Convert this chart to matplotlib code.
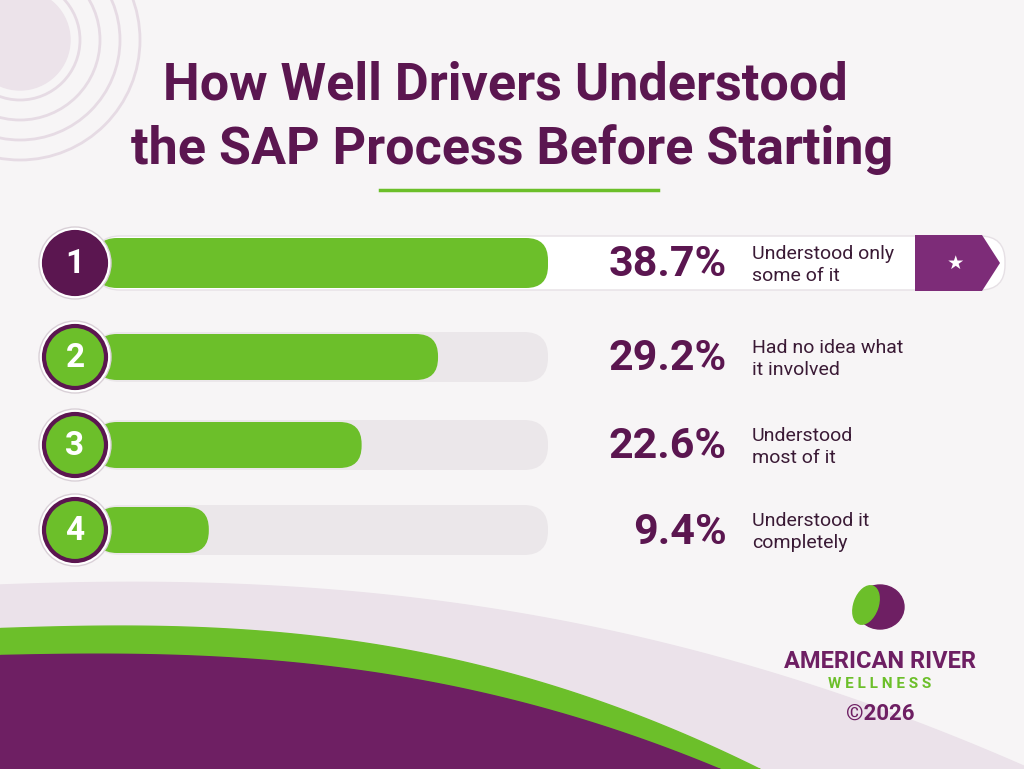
import matplotlib
matplotlib.use("Agg")
import matplotlib.pyplot as plt
import numpy as np
from matplotlib.patches import FancyBboxPatch, Circle, Polygon, Ellipse

ranks = ["1", "2", "3", "4"]
values = [38.7, 29.2, 22.6, 9.4]
pct_labels = ["38.7%", "29.2%", "22.6%", "9.4%"]
answers = ["Understood only\nsome of it", "Had no idea what\nit involved",
           "Understood\nmost of it", "Understood it\ncompletely"]

PURPLE = "#5b1650"
GREEN = "#6cbf2a"
TRACK = "#ebe7ea"

fig = plt.figure(figsize=(10.24, 7.69), dpi=100)
fig.patch.set_facecolor("#f7f5f6")
ax = fig.add_axes([0, 0, 1, 1])
ax.set_xlim(0, 1024); ax.set_ylim(769, 0); ax.axis("off")

# decorative arcs top-left
for r in [60, 80, 100, 120]:
    ax.add_patch(Circle((20, 40), r, fill=False, ec="#e6dbe4", lw=2))
ax.add_patch(Circle((20, 40), 50, color="#ece3ea"))

# bottom waves
x = np.linspace(0, 1024, 300)
light = 585 - 15*np.sin(x/1024*np.pi*0.8) + 190*(x/1024)**2.2
ax.fill_between(x, 769, light, color="#ebe2ea", zorder=1)
gx = np.linspace(0, 760, 300)
g = 628 - 8*np.sin(gx/760*np.pi) + 141*(gx/760)**2.5
ax.fill_between(gx, 769, g, color=GREEN, zorder=2)
px = np.linspace(0, 720, 300)
p = 655 - 5*np.sin(px/720*np.pi) + 114*(px/720)**2.5
ax.fill_between(px, 769, p, color="#6e1f63", zorder=3)

# title
ax.text(505, 85, "How Well Drivers Understood", ha="center", va="center",
        fontsize=37.5, fontweight="bold", color=PURPLE, family="Roboto")
ax.text(512, 150, "the SAP Process Before Starting", ha="center", va="center",
        fontsize=37.5, fontweight="bold", color=PURPLE, family="Roboto")
ax.plot([380, 658], [190, 190], color=GREEN, lw=2.5)

ys = [263, 357, 445, 530]
x0, x1 = 95, 548
scale = (x1 - 100) / max(values)
for i, (rk, v, pl, ans, y) in enumerate(zip(ranks, values, pct_labels, answers, ys)):
    h = 54 if i == 0 else 50
    if i == 0:
        ax.add_patch(FancyBboxPatch((x0, y-h/2), 910, h, boxstyle="round,pad=0,rounding_size=25",
                                    fc="white", ec="#e6e0e5", lw=1, zorder=4))
        ax.add_patch(Polygon([[915, y-28], [982, y-28], [1000, y], [982, y+28], [915, y+28]],
                             closed=True, fc="#7d2c78", zorder=5))
        ax.text(955, y, "\u2605", ha="center", va="center", fontsize=14, color="white",
                family="DejaVu Sans", zorder=6)
    else:
        ax.add_patch(FancyBboxPatch((x0, y-h/2), x1-x0, h, boxstyle="round,pad=0,rounding_size=24",
                                    fc=TRACK, ec="none", zorder=4))
    ax.add_patch(FancyBboxPatch((x0, y-h/2+2), v*scale + 5, h-4, boxstyle="round,pad=0,rounding_size=22",
                                fc=GREEN, ec="none", zorder=5))
    cfill = PURPLE if i == 0 else GREEN
    ax.add_patch(Circle((75, y), 36, fc="white", ec="#d9d0d7", lw=1, zorder=6))
    ax.add_patch(Circle((75, y), 31, fc=cfill, ec=PURPLE, lw=3, zorder=7))
    ax.text(75, y+1, rk, ha="center", va="center", fontsize=24, fontweight="bold",
            color="white", family="Roboto", zorder=8)
    ax.text(727, y+2, pl, ha="right", va="center", fontsize=31, fontweight="bold",
            color=PURPLE, family="Roboto", zorder=8)
    ax.text(752, y+2, ans, ha="left", va="center", fontsize=14, color="#3a1a35",
            family="Roboto", linespacing=1.25, zorder=8)

# logo
ax.add_patch(Ellipse((880, 607), 48, 44, color="#6e1f63", zorder=5))
ax.add_patch(Ellipse((866, 605), 24, 40, angle=20, color=GREEN, zorder=6))
ax.text(880, 662, "AMERICAN RIVER", ha="center", va="center", fontsize=17, fontweight="bold",
        color="#6e1f63", family="Roboto")
ax.text(880, 684, "W E L L N E S S", ha="center", va="center", fontsize=11, fontweight="bold",
        color=GREEN, family="Roboto")
ax.text(880, 714, "©2026", ha="center", va="center", fontsize=16, fontweight="bold",
        color="#6e1f63", family="Roboto")

fig.savefig("out.png", dpi=100, facecolor=fig.get_facecolor())
